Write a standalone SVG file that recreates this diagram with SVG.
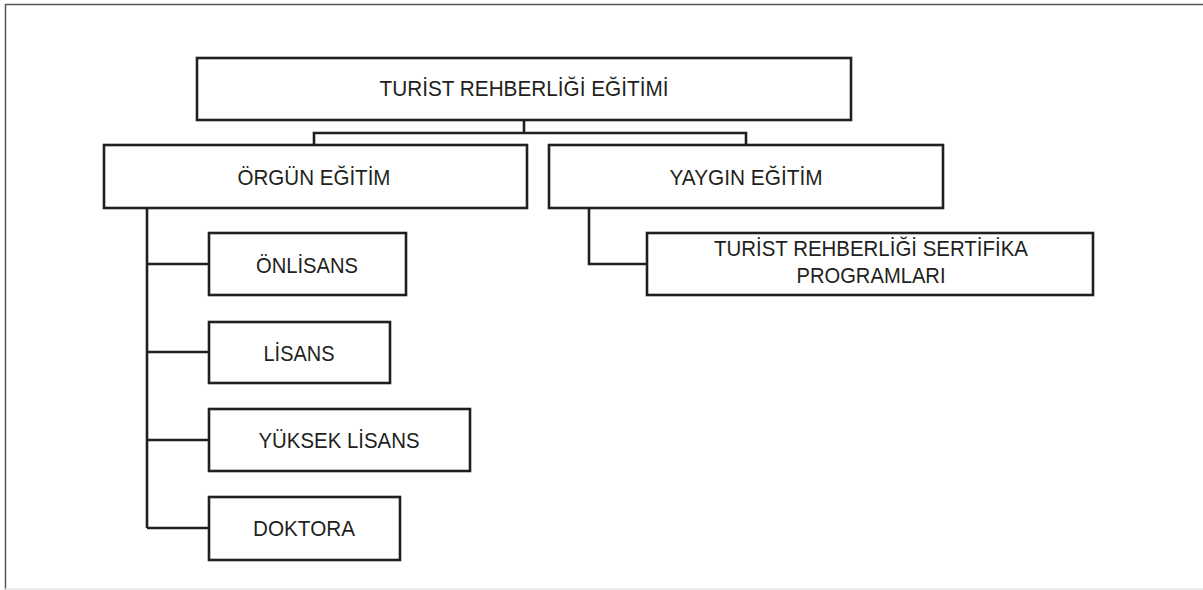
<svg xmlns="http://www.w3.org/2000/svg" width="1203" height="590" viewBox="0 0 1203 590">
<style>
.box{fill:#fff;stroke:#231f20;stroke-width:2.6}
.ln{fill:none;stroke:#231f20;stroke-width:2.6}
text{font-family:"Liberation Sans",Arial,sans-serif;font-size:22px;fill:#231f20;text-anchor:middle}
</style>
<rect x="0" y="0" width="1203" height="590" fill="#fff"/>
<path d="M5.5,590 V4.5 H1203" fill="none" stroke="#555" stroke-width="1.5"/>
<line x1="5" y1="589" x2="1203" y2="589" stroke="#e8e8e8" stroke-width="1.5"/>
<g id="connectors" class="ln">
<path class="ln" d="M524,120 V133 M314,145 V133 H746 V145"/>
<path class="ln" d="M147,208 V528 M147,264 H209 M147,352 H209 M147,440 H209 M147,528 H209"/>
<path class="ln" d="M589,208 V264 H647"/>
</g>
<g id="n-root"><rect class="box" x="197" y="58" width="654" height="62"/><text x="524" y="96" textLength="289" lengthAdjust="spacingAndGlyphs">TURİST REHBERLİĞİ EĞİTİMİ</text></g>
<g id="n-orgun"><rect class="box" x="104" y="145" width="423" height="63"/><text x="314" y="185" textLength="153" lengthAdjust="spacingAndGlyphs">ÖRGÜN EĞİTİM</text></g>
<g id="n-yaygin"><rect class="box" x="549" y="145" width="394" height="63"/><text x="746" y="185" textLength="153" lengthAdjust="spacingAndGlyphs">YAYGIN EĞİTİM</text></g>
<g id="n-onlisans"><rect class="box" x="209" y="233" width="197" height="62"/><text x="307" y="273" textLength="102" lengthAdjust="spacingAndGlyphs">ÖNLİSANS</text></g>
<g id="n-lisans"><rect class="box" x="209" y="322" width="181" height="61"/><text x="299" y="361" textLength="71" lengthAdjust="spacingAndGlyphs">LİSANS</text></g>
<g id="n-yuksek"><rect class="box" x="209" y="409" width="261" height="62"/><text x="339" y="448" textLength="161" lengthAdjust="spacingAndGlyphs">YÜKSEK LİSANS</text></g>
<g id="n-doktora"><rect class="box" x="209" y="497" width="191" height="63"/><text x="304" y="536" textLength="102" lengthAdjust="spacingAndGlyphs">DOKTORA</text></g>
<g id="n-sertifika"><rect class="box" x="647" y="233" width="446" height="62"/><text x="871" y="256" textLength="314" lengthAdjust="spacingAndGlyphs">TURİST REHBERLİĞİ SERTİFİKA</text><text x="871" y="283" textLength="149" lengthAdjust="spacingAndGlyphs">PROGRAMLARI</text></g>
</svg>
